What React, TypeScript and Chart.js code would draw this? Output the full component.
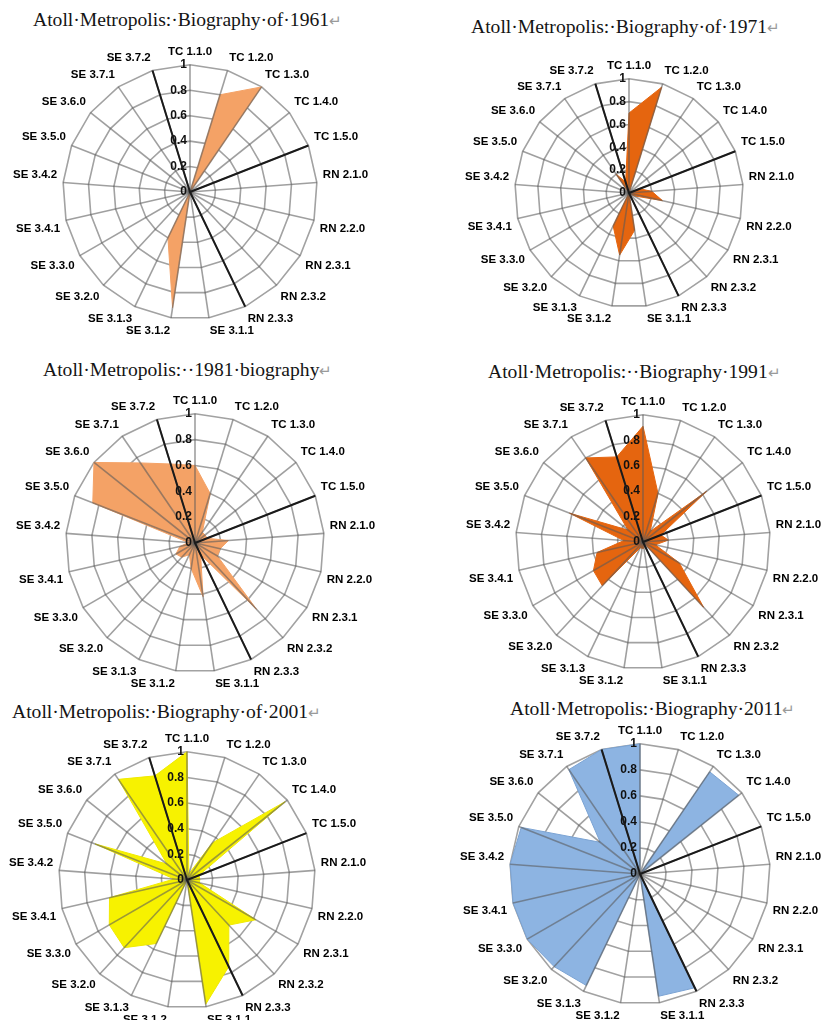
import React, { useEffect, useRef } from 'react';
import { Chart, registerables } from 'chart.js';

Chart.register(...registerables);

// ---------------- data ----------------
const CATEGORIES = [
  'TC 1.1.0', 'TC 1.2.0', 'TC 1.3.0', 'TC 1.4.0', 'TC 1.5.0',
  'RN 2.1.0', 'RN 2.2.0', 'RN 2.3.1', 'RN 2.3.2', 'RN 2.3.3',
  'SE 3.1.1', 'SE 3.1.2', 'SE 3.1.3', 'SE 3.2.0', 'SE 3.3.0',
  'SE 3.4.1', 'SE 3.4.2', 'SE 3.5.0', 'SE 3.6.0', 'SE 3.7.1', 'SE 3.7.2',
];

const VALUES_1961 = [0, 0.8, 1.0, 0, 0, 0, 0, 0, 0, 0, 0, 0.92, 0.4, 0, 0, 0, 0, 0, 0, 0, 0];
const VALUES_1971 = [0.7, 0.97, 0, 0, 0.1, 0.2, 0.3, 0.05, 0, 0, 0.33, 0.55, 0.32, 0, 0, 0, 0, 0, 0, 0.2, 0.1];
const VALUES_1981 = [0.6, 0.4, 0.1, 0.1, 0.1, 0.26, 0.2, 0.2, 0.7, 0.1, 0.42, 0.2, 0.1, 0.15, 0.17, 0.12, 0.05, 0.85, 1.0, 0.75, 0.64];
const VALUES_1991 = [0.91, 0.4, 0.1, 0.64, 0.15, 0.2, 0.1, 0.33, 0.7, 0, 0.05, 0.05, 0.05, 0.47, 0.45, 0.37, 0.15, 0.62, 0.15, 0.8, 0.7];
const VALUES_2001 = [1.0, 0.05, 0.35, 0.98, 0.1, 0.1, 0.1, 0.62, 0.48, 0.75, 0.98, 0, 0.55, 0.72, 0.7, 0.62, 0.1, 0.77, 0.2, 0.95, 0.85];
const VALUES_2011 = [1.0, 0, 0.95, 0.97, 0, 0, 0, 0, 0, 0.97, 0.95, 0, 0.95, 0.97, 1.0, 1.0, 1.0, 0.98, 0.39, 0.97, 1.0];

// group separators (last item of TC, RN and SE groups)
const SEPARATOR_VALUES = [0, 0, 0, 0, 1, 0, 0, 0, 0, 1, 0, 0, 0, 0, 0, 0, 0, 0, 0, 0, 1];

const TICK_VALUES = [0, 0.2, 0.4, 0.6, 0.8, 1];
const TICK_LABELS = ['0', '0.2', '0.4', '0.6', '0.8', '1'];

const TITLES = [
  'Atoll·Metropolis:·Biography·of·1961',
  'Atoll·Metropolis:·Biography·of·1971',
  'Atoll·Metropolis:··1981·biography',
  'Atoll·Metropolis:··Biography·1991',
  'Atoll·Metropolis:·Biography·of·2001',
  'Atoll·Metropolis:·Biography·2011',
];

const SERIES = [VALUES_1961, VALUES_1971, VALUES_1981, VALUES_1991, VALUES_2001, VALUES_2011];

// ---------------- styles / layout ----------------
const FILLS = ['#F4A266', '#E5650F', '#F4A266', '#E5650F', '#F7F200', '#8DB4E2'];
const BORDERS = ['#F4A266', '#E5650F', '#F4A266', '#E5650F', '#F0EA00', '#7BA3D3'];

const LAYOUT = [
  { cx: 190, cy: 192, r: 127, tx: 33, tb: 26.5 },
  { cx: 629, cy: 193, r: 114, tx: 471, tb: 33.3 },
  { cx: 195, cy: 543, r: 129, tx: 43, tb: 376.7 },
  { cx: 643, cy: 542, r: 127, tx: 488, tb: 378.3 },
  { cx: 187, cy: 880, r: 128, tx: 12, tb: 718.3 },
  { cx: 640, cy: 874, r: 130, tx: 510, tb: 715 },
];

const LABEL_SIZE = 11.5;
const TICK_SIZE = 12;
const LABEL_LH = LABEL_SIZE * 1.2;
const PAD = 6;
const SANS = '"Liberation Sans", Arial, sans-serif';
const GRID_COLOR = '#a2a2a2';
const SPOKE_COLOR = 'rgba(90,90,90,0.58)';

const overlayPlugin = {
  id: 'overlay',
  afterDatasetDraw(chart: any, args: any) {
    if (args.index !== 0) return;
    const scale = chart.scales.r;
    const ctx = chart.ctx;
    ctx.save();
    ctx.strokeStyle = SPOKE_COLOR;
    ctx.lineWidth = 1.6;
    for (let i = 0; i < chart.data.labels.length; i++) {
      const p = scale.getPointPositionForValue(i, scale.max);
      ctx.beginPath();
      ctx.moveTo(scale.xCenter, scale.yCenter);
      ctx.lineTo(p.x, p.y);
      ctx.stroke();
    }
    ctx.font = `bold ${TICK_SIZE}px ${SANS}`;
    ctx.fillStyle = '#111';
    ctx.textAlign = 'right';
    ctx.textBaseline = 'middle';
    TICK_VALUES.forEach((v, i) => {
      const d = scale.getDistanceFromCenterForValue(v);
      ctx.fillText(TICK_LABELS[i], scale.xCenter - 3, scale.yCenter - d);
    });
    ctx.restore();
  },
};

function RadarPanel({ index }: { index: number }) {
  const ref = useRef<HTMLCanvasElement | null>(null);
  const lay = LAYOUT[index];
  const half = Math.ceil(lay.r + PAD + LABEL_LH);
  const w = 2 * (half + 72);
  const h = 2 * half;

  useEffect(() => {
    if (!ref.current) return;
    const chart = new Chart(ref.current, {
      type: 'radar',
      data: {
        labels: CATEGORIES,
        datasets: [
          {
            data: SERIES[index],
            backgroundColor: FILLS[index],
            borderColor: BORDERS[index],
            borderWidth: 1,
            fill: 'origin',
            pointRadius: 0,
            pointHoverRadius: 0,
            order: 1,
          },
          {
            data: SEPARATOR_VALUES,
            borderColor: '#1a1a1a',
            borderWidth: 2,
            fill: false,
            pointRadius: 0,
            pointHoverRadius: 0,
            order: 0,
          },
        ],
      },
      options: {
        responsive: false,
        animation: false,
        devicePixelRatio: 1,
        layout: { padding: 0 },
        plugins: {
          legend: { display: false },
          tooltip: { enabled: false },
          title: { display: false },
        },
        scales: {
          r: {
            min: 0,
            max: 1,
            startAngle: 0,
            afterBuildTicks: (s: any) => {
              s.ticks = TICK_VALUES.map((value) => ({ value }));
            },
            angleLines: { display: false },
            grid: { color: GRID_COLOR, lineWidth: 1.6, circular: false },
            ticks: { display: false, stepSize: 0.2 },
            pointLabels: {
              display: true,
              padding: PAD,
              color: '#000',
              font: { family: SANS, weight: 'bold', size: LABEL_SIZE, lineHeight: 1.2 },
            },
          },
        },
      } as any,
      plugins: [overlayPlugin],
    });
    return () => chart.destroy();
  }, [index]);

  return (
    <canvas
      ref={ref}
      width={w}
      height={h}
      style={{ position: 'absolute', left: lay.cx - w / 2, top: lay.cy - half, width: w, height: h }}
    />
  );
}

const TITLE_SIZE = 19.6;

export default function App() {
  return (
    <div
      style={{
        position: 'absolute',
        left: 0,
        top: 0,
        width: 822,
        height: 1020,
        overflow: 'hidden',
        background: '#fff',
      }}
    >
      {LAYOUT.map((lay, i) => (
        <div
          key={'t' + i}
          style={{
            position: 'absolute',
            left: lay.tx,
            top: lay.tb - 0.8375 * TITLE_SIZE,
            fontFamily: '"Liberation Serif", "Times New Roman", serif',
            fontSize: TITLE_SIZE,
            lineHeight: TITLE_SIZE + 'px',
            whiteSpace: 'nowrap',
            color: '#141414',
          }}
        >
          {TITLES[i]}
          <span style={{ color: '#9a9a9a', fontSize: 15 }}>↵</span>
        </div>
      ))}
      {LAYOUT.map((_, i) => (
        <RadarPanel key={'c' + i} index={i} />
      ))}
    </div>
  );
}
